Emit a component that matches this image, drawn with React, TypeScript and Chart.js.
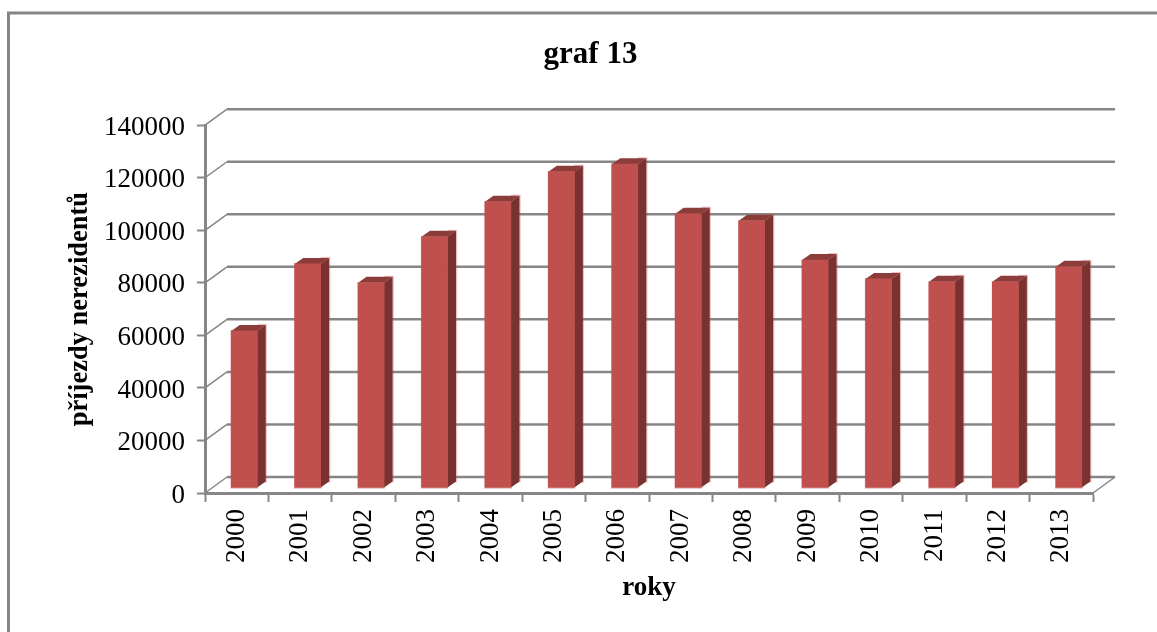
import React, { useEffect, useRef } from "react";
import { Chart, registerables } from "chart.js";

Chart.register(...registerables);

const years = ["2000","2001","2002","2003","2004","2005","2006","2007","2008","2009","2010","2011","2012","2013"];
const arrivals = [59800,85300,78100,95600,109000,120400,123250,104400,101700,86800,79600,78500,78500,84200];
const yTicks = [0,20000,40000,60000,80000,100000,120000,140000];
const titleText = "graf 13";
const yTitle = "příjezdy nerezidentů";
const xTitle = "roky";

const FONT = "'Liberation Serif'";
const GRID = "#868686";
const FRONT = "#C0504D";
const SIDE = "#7A3230";
const TOP = "#8C3D3A";
const BACK_DX = 22, BACK_DY = -16;
const BAR_DX = 7.5, BAR_DY = -5;
const DEPTH_DX = 8.5, DEPTH_DY = -6;

const frame3d = {
  id: "frame3d",
  afterLayout(chart: any) {
    chart.titleBlock.left += 24;
  },
  beforeDraw(chart: any) {
    const { ctx, width, height } = chart;
    ctx.save();
    ctx.strokeStyle = GRID;
    ctx.lineWidth = 3;
    ctx.beginPath();
    ctx.moveTo(8.5, height);
    ctx.lineTo(8.5, 13);
    ctx.lineTo(width + 2, 13);
    ctx.stroke();
    ctx.restore();
  },
  beforeDatasetsDraw(chart: any) {
    const { ctx, chartArea } = chart;
    const y = chart.scales.y;
    const { left, right, bottom } = chartArea;
    ctx.save();
    ctx.strokeStyle = GRID;
    ctx.lineCap = "butt";
    y.ticks.forEach((t: any) => {
      const p = y.getPixelForValue(t.value);
      ctx.lineWidth = 2.5;
      ctx.beginPath();
      ctx.moveTo(left + BACK_DX, p + BACK_DY);
      ctx.lineTo(right + BACK_DX, p + BACK_DY);
      ctx.stroke();
      ctx.lineWidth = 1.5;
      ctx.beginPath();
      ctx.moveTo(left, p);
      ctx.lineTo(left + BACK_DX, p + BACK_DY);
      ctx.stroke();
    });
    ctx.lineWidth = 1.5;
    ctx.beginPath();
    ctx.moveTo(right, bottom);
    ctx.lineTo(right + BACK_DX, bottom + BACK_DY);
    ctx.stroke();
    ctx.restore();

    ctx.save();
    ctx.translate(BAR_DX, BAR_DY);
    const meta = chart.getDatasetMeta(0);
    meta.data.forEach((bar: any) => {
      const l = bar.x - bar.width / 2;
      const r = bar.x + bar.width / 2;
      const t = bar.y;
      const b = bar.base;
      ctx.fillStyle = "rgba(192,80,77,0.35)";
      ctx.fillRect(l - 0.7, t - 0.7, r - l + 1.4, b - t + 2);
      ctx.fillRect(r, t + DEPTH_DY - 1, DEPTH_DX + 1.2, b - t + 2);
      ctx.fillStyle = SIDE;
      ctx.beginPath();
      ctx.moveTo(r, t);
      ctx.lineTo(r + DEPTH_DX, t + DEPTH_DY);
      ctx.lineTo(r + DEPTH_DX, b + DEPTH_DY);
      ctx.lineTo(r, b);
      ctx.closePath();
      ctx.fill();
      ctx.fillStyle = TOP;
      ctx.beginPath();
      ctx.moveTo(l, t);
      ctx.lineTo(l + DEPTH_DX, t + DEPTH_DY);
      ctx.lineTo(r + DEPTH_DX, t + DEPTH_DY);
      ctx.lineTo(r, t);
      ctx.closePath();
      ctx.fill();
    });
    // the native bars follow, on the same shifted plane
  },
  afterDatasetsDraw(chart: any) {
    chart.ctx.restore();
  },
};

export default function App() {
  const ref = useRef<HTMLCanvasElement>(null);
  useEffect(() => {
    const chart = new Chart(ref.current!, {
      type: "bar",
      data: {
        labels: years,
        datasets: [{ data: arrivals, backgroundColor: FRONT, borderWidth: 0, barThickness: 26 }],
      },
      plugins: [frame3d],
      options: {
        animation: false,
        responsive: false,
        devicePixelRatio: 1,
        layout: { autoPadding: false, padding: { left: 64, right: 64, top: 0, bottom: 28 } },
        plugins: {
          legend: { display: false },
          tooltip: { enabled: false },
          title: {
            display: true,
            text: titleText,
            color: "#000",
            font: { family: FONT, size: 31, weight: "bold", lineHeight: 1.2 },
            padding: { top: 36, bottom: 52 },
          },
        },
        scales: {
          x: {
            grid: { display: true, drawOnChartArea: false, drawTicks: true, tickLength: 9, tickWidth: 2, tickColor: GRID, offset: true },
            border: { display: true, color: GRID, width: 3 },
            afterFit: (s: any) => { s.height = 111; },
            ticks: { color: "#000", font: { family: FONT, size: 27 }, minRotation: 90, maxRotation: 90, autoSkip: false, padding: 7 },
            title: { display: true, text: xTitle, color: "#000", font: { family: FONT, size: 27, weight: "bold", lineHeight: 1.2 }, padding: 0 },
          },
          y: {
            min: 0,
            max: 140000,
            afterBuildTicks: (s: any) => { s.ticks = yTicks.map((value) => ({ value })); },
            afterFit: (s: any) => { s.width = 141; },
            grid: { display: true, drawOnChartArea: false, drawTicks: true, tickLength: 8, tickWidth: 2, tickColor: GRID },
            border: { display: true, color: GRID, width: 3 },
            ticks: {
              color: "#000",
              font: { family: FONT, size: 27 },
              padding: 12,
              labelOffset: 2.5,
              callback: (v: any) => String(v),
            },
            title: { display: true, text: yTitle, color: "#000", font: { family: FONT, size: 26.5, weight: "bold", lineHeight: 1.2 }, padding: 0 },
          },
        },
      },
    } as any);
    return () => chart.destroy();
  }, []);
  return (
    <canvas
      ref={ref}
      width={1157}
      height={632}
      style={{ position: "fixed", left: 0, top: 0, width: 1157, height: 632, background: "#fff" }}
    />
  );
}
